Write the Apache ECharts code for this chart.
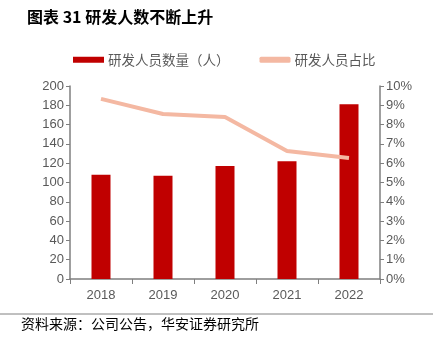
<!DOCTYPE html>
<html><head><meta charset="utf-8">
<script src="https://cdn.jsdelivr.net/npm/echarts@6/dist/echarts.min.js"></script>
<style>html,body{margin:0;padding:0;background:#fff}#c{width:439px;height:345px}</style>
</head><body><div id="c"></div>
<script>
var categories = ['2018','2019','2020','2021','2022'];
var staffCount = [108, 107, 117, 122, 181];
var staffRatio = [9.33, 8.55, 8.39, 6.63, 6.27];
var leftTicks = [0,20,40,60,80,100,120,140,160,180,200];
var rightTicks = ['0%','1%','2%','3%','4%','5%','6%','7%','8%','9%','10%'];

var chart = echarts.init(document.getElementById('c'), null, {renderer:'canvas'});
var axisColor = '#7f7f7f';
var labelColor = '#595959';
chart.setOption({
  animation: false,
  title: {
    text: '图表 31 研发人数不断上升',
    left: 22, top: 4,
    textStyle: {fontFamily: 'Noto Sans CJK SC', fontSize: 16, fontWeight: 'bold', color: '#000'}
  },
  legend: {
    top: 48, left: 68,
    itemGap: 30,
    itemWidth: 31, itemHeight: 6,
    textStyle: {fontFamily: 'Noto Sans CJK SC', fontSize: 13.5, color: labelColor, padding: [0,0,0,-1]},
    data: [
      {name: '研发人员数量（人）', icon: 'rect'},
      {name: '研发人员占比', icon: 'roundRect', itemStyle:{color:'#F4B8A2'}}
    ]
  },
  grid: {left: 70, right: 59, top: 86, bottom: 66},
  xAxis: {
    type: 'category', data: categories,
    axisLine: {lineStyle: {color: axisColor, width: 1.5}},
    axisTick: {show: true, length: 5, lineStyle: {color: axisColor}},
    axisLabel: {color: labelColor, fontFamily: 'Liberation Sans', fontSize: 13, margin: 10}
  },
  yAxis: [{
    type: 'value', min: 0, max: 200, interval: 20,
    axisLine: {show: true, lineStyle: {color: axisColor, width: 1.5}},
    axisTick: {show: true, length: 4, lineStyle: {color: axisColor}},
    splitLine: {show: false},
    axisLabel: {color: labelColor, fontFamily: 'Liberation Sans', fontSize: 13, margin: 6}
  }, {
    type: 'value', min: 0, max: 10, interval: 1,
    axisLine: {show: true, lineStyle: {color: axisColor, width: 1.5}},
    axisTick: {show: true, length: 4, lineStyle: {color: axisColor}},
    splitLine: {show: false},
    axisLabel: {color: labelColor, fontFamily: 'Liberation Sans', fontSize: 13, margin: 6,
      formatter: function(v){ return rightTicks[Math.round(v)]; }}
  }],
  series: [{
    name: '研发人员数量（人）', type: 'bar', data: staffCount,
    barWidth: 19, itemStyle: {color: '#C00000'}
  }, {
    name: '研发人员占比', type: 'line', yAxisIndex: 1, data: staffRatio,
    symbol: 'none', lineStyle: {color: '#F4B8A2', width: 4}, itemStyle:{color:'#F4B8A2'}
  }],
  graphic: [
    {type: 'line', shape: {x1: 0, y1: 314, x2: 433, y2: 314}, style: {stroke: '#808080', lineWidth: 1}},
    {type: 'text', left: 21, top: 317, style: {text: '资料来源：公司公告，华安证券研究所', font: '14px "Noto Sans CJK SC"', fill: '#000'}}
  ]
});
</script></body></html>
